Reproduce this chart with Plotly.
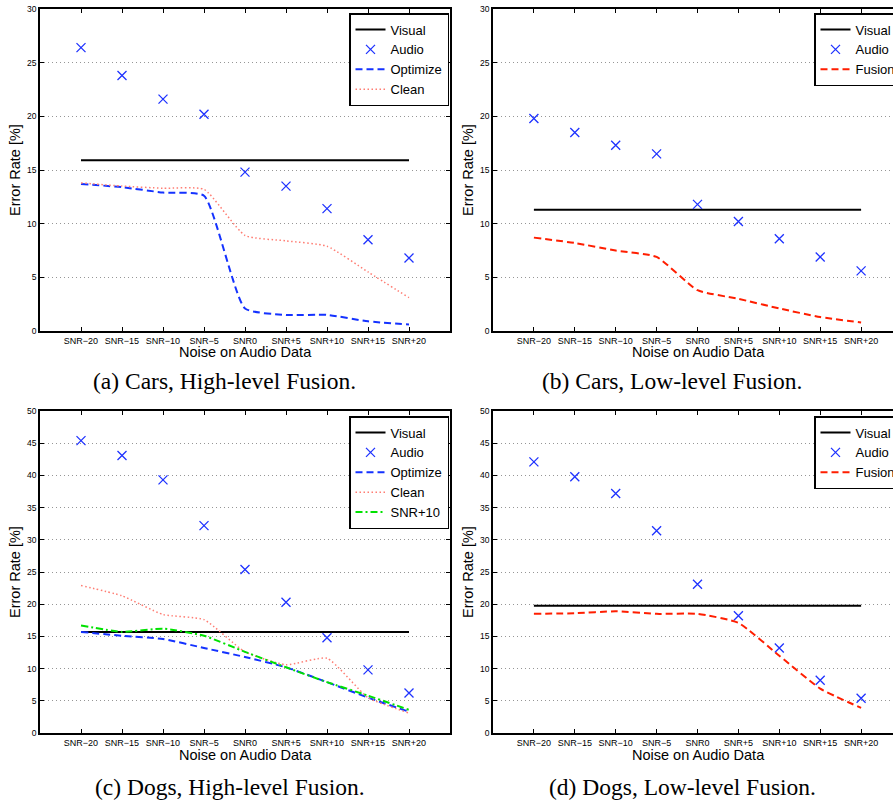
import plotly.graph_objects as go

# ---------------- data ----------------
snr = ["SNR−20", "SNR−15", "SNR−10", "SNR−5", "SNR0", "SNR+5", "SNR+10", "SNR+15", "SNR+20"]

cars_high_visual = [15.9, 15.9, 15.9, 15.9, 15.9, 15.9, 15.9, 15.9, 15.9]
cars_high_audio = [26.4, 23.8, 21.6, 20.2, 14.8, 13.5, 11.4, 8.5, 6.8]
cars_high_optimize = [13.7, 13.4, 12.9, 12.6, 2.1, 1.5, 1.5, 0.9, 0.6]
cars_high_clean = [13.8, 13.5, 13.3, 13.2, 8.9, 8.4, 7.9, 5.5, 3.1]

cars_low_visual = [11.3, 11.3, 11.3, 11.3, 11.3, 11.3, 11.3, 11.3, 11.3]
cars_low_audio = [19.8, 18.5, 17.3, 16.5, 11.8, 10.2, 8.6, 6.9, 5.6]
cars_low_fusion = [8.7, 8.2, 7.5, 6.9, 3.8, 3.0, 2.1, 1.3, 0.8]

dogs_high_visual = [15.7, 15.7, 15.7, 15.7, 15.7, 15.7, 15.7, 15.7, 15.7]
dogs_high_audio = [45.4, 43.1, 39.3, 32.2, 25.4, 20.3, 14.8, 9.8, 6.2]
dogs_high_optimize = [15.7, 15.1, 14.6, 13.2, 11.8, 10.2, 7.9, 5.5, 3.3]
dogs_high_clean = [22.9, 21.3, 18.4, 17.6, 12.6, 10.6, 11.6, 5.5, 3.1]
dogs_high_snr10 = [16.7, 15.7, 16.2, 15.1, 12.6, 10.2, 7.9, 5.8, 3.6]

dogs_low_visual = [19.75, 19.75, 19.75, 19.75, 19.75, 19.75, 19.75, 19.75, 19.75]
dogs_low_audio = [42.1, 39.8, 37.2, 31.4, 23.1, 18.2, 13.2, 8.2, 5.4]
dogs_low_fusion = [18.5, 18.6, 18.9, 18.5, 18.5, 17.1, 12.0, 6.9, 3.9]

captions = ["(a) Cars, High-level Fusion.", "(b) Cars, Low-level Fusion.",
            "(c) Dogs, High-level Fusion.", "(d) Dogs, Low-level Fusion."]
x_title = "Noise on Audio Data"
y_title = "Error Rate [%]"

# ---------------- layout helpers ----------------
W, H = 893, 802
def px(x):
    return x / W
def py(y):
    return 1 - y / H

SANS = "Liberation Sans, Arial, Helvetica, sans-serif"
SERIF = "Liberation Serif, Times New Roman, serif"

st_visual = dict(color="black", width=2)
st_opt = dict(color="rgb(20,50,255)", width=2, dash="7px,4px", shape="spline", smoothing=0.5)
st_clean = dict(color="rgb(255,125,115)", width=1.5, dash="1.5px,2.5px", shape="spline", smoothing=0.5)
st_fusion = dict(color="rgb(255,30,0)", width=2, dash="7px,4px", shape="spline", smoothing=0.5)
st_snr10 = dict(color="rgb(0,225,0)", width=2, dash="7px,3px,2px,3px", shape="spline", smoothing=0.5)
audio_marker = dict(symbol="x-thin", size=9, color="rgb(30,50,255)",
                    line=dict(color="rgb(30,50,255)", width=1.3))

fig = go.Figure()

def add_panel(xa, ya, leg, visual, audio, others):
    fig.add_trace(go.Scatter(x=snr, y=visual, mode="lines", name="Visual",
                             line=st_visual, xaxis=xa, yaxis=ya, legend=leg))
    fig.add_trace(go.Scatter(x=snr, y=audio, mode="markers", name="Audio",
                             marker=audio_marker, xaxis=xa, yaxis=ya, legend=leg))
    for name, vals, st in others:
        fig.add_trace(go.Scatter(x=snr, y=vals, mode="lines", name=name,
                                 line=st, xaxis=xa, yaxis=ya, legend=leg))

add_panel("x", "y", "legend", cars_high_visual, cars_high_audio,
          [("Optimize", cars_high_optimize, st_opt), ("Clean", cars_high_clean, st_clean)])
add_panel("x2", "y2", "legend2", cars_low_visual, cars_low_audio,
          [("Fusion", cars_low_fusion, st_fusion)])
add_panel("x3", "y3", "legend3", dogs_high_visual, dogs_high_audio,
          [("Optimize", dogs_high_optimize, st_opt), ("Clean", dogs_high_clean, st_clean),
           ("SNR+10", dogs_high_snr10, st_snr10)])
add_panel("x4", "y4", "legend4", dogs_low_visual, dogs_low_audio,
          [("Fusion", dogs_low_fusion, st_fusion)])

def xaxis(dom, rng, anchor):
    return dict(domain=dom, range=rng, type="category", categoryorder="array",
                categoryarray=snr, showline=True, linecolor="black", linewidth=1.5,
                mirror="ticks", ticks="inside", ticklen=4, tickcolor="black",
                showgrid=False, zeroline=False, anchor=anchor,
                tickfont=dict(family=SANS, size=9, color="black"))

def yaxis(dom, rng, anchor, mirror):
    return dict(domain=dom, range=rng, dtick=5, showline=True, linecolor="black",
                linewidth=1.5, mirror=mirror, ticks="inside", ticklen=4,
                tickcolor="black", showgrid=True, gridcolor="rgb(150,150,150)",
                griddash="1px,3px", gridwidth=1, zeroline=False, anchor=anchor,
                tickfont=dict(family=SANS, size=8.5, color="black"))

top_dom = [py(331), py(9)]
bot_dom = [py(733), py(411)]
left_dom = [px(40), px(450)]
right_dom = [px(493), 1.0]

def legend(x, y):
    return dict(x=px(x), y=py(y), xanchor="left", yanchor="top",
                bgcolor="white", bordercolor="black", borderwidth=1.5,
                font=dict(family=SANS, size=13, color="black"),
                tracegroupgap=0)

annotations = []
for cap, cx, cy in zip(captions, [224, 672, 230, 682], [381, 381, 787, 787]):
    annotations.append(dict(text=cap, x=px(cx), y=py(cy), xref="paper", yref="paper",
                            showarrow=False, xanchor="center", yanchor="middle",
                            font=dict(family=SERIF, size=23.5, color="black")))
for tx, ty in [(245, 352), (698, 352), (245, 755), (698, 755)]:
    annotations.append(dict(text=x_title, x=px(tx), y=py(ty), xref="paper", yref="paper",
                            showarrow=False, xanchor="center", yanchor="middle",
                            font=dict(family=SANS, size=14.5, color="black")))
for tx, ty in [(15, 170), (468, 170), (15, 572), (468, 572)]:
    annotations.append(dict(text=y_title, x=px(tx), y=py(ty), xref="paper", yref="paper",
                            showarrow=False, xanchor="center", yanchor="middle",
                            textangle=-90,
                            font=dict(family=SANS, size=14.5, color="black")))

fig.update_layout(
    width=W, height=H,
    margin=dict(l=0, r=0, t=0, b=0, autoexpand=False),
    paper_bgcolor="white", plot_bgcolor="white",
    showlegend=True,
    xaxis=xaxis(left_dom, [-1, 9], "y"),
    yaxis=yaxis(top_dom, [0, 30], "x", "ticks"),
    xaxis2=xaxis(right_dom, [-1, 8.78], "y2"),
    yaxis2=yaxis(top_dom, [0, 30], "x2", False),
    xaxis3=xaxis(left_dom, [-1, 9], "y3"),
    yaxis3=yaxis(bot_dom, [0, 50], "x3", "ticks"),
    xaxis4=xaxis(right_dom, [-1, 8.78], "y4"),
    yaxis4=yaxis(bot_dom, [0, 50], "x4", False),
    legend=legend(349, 13),
    legend2=legend(814, 13),
    legend3=legend(349, 416),
    legend4=legend(814, 416),
    annotations=annotations,
)

# remove the default 8px page margin so the figure fills the window exactly
fig.write_html("out.html", config={"displayModeBar": False},
               post_script="document.body.style.margin='0';")
